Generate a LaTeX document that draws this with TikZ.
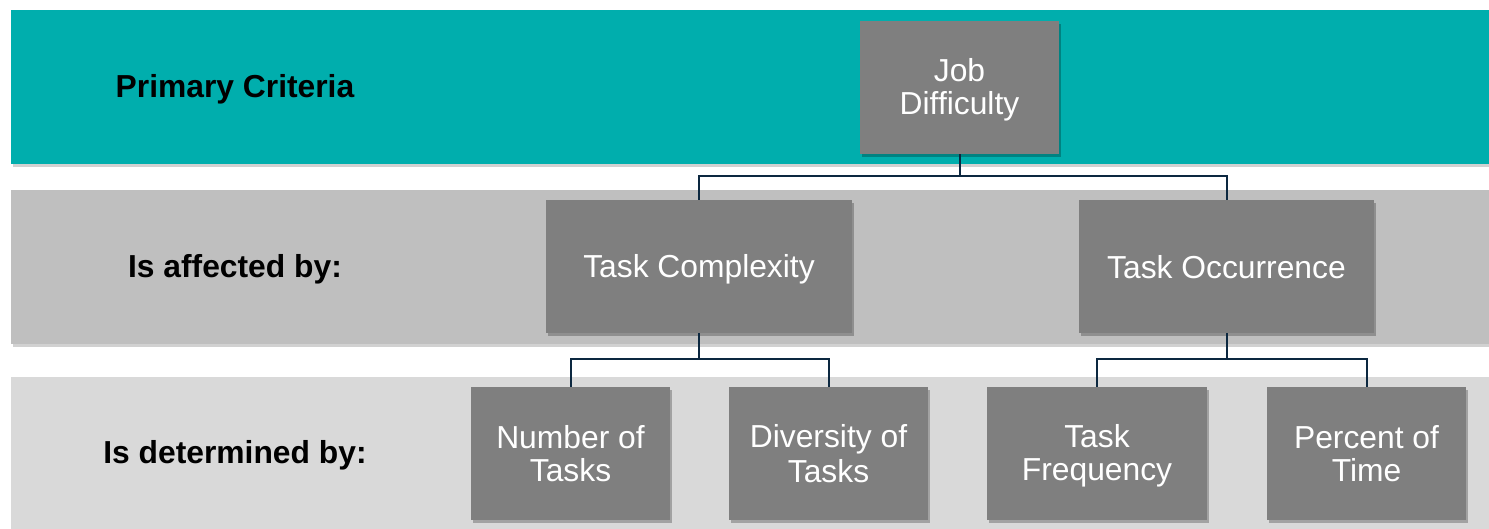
\documentclass[tikz,border=0pt]{standalone}
\usepackage{fontspec}
\setmainfont{Liberation Sans}
\usetikzlibrary{shadows}
\definecolor{teal1}{HTML}{00AEAD}
\definecolor{band2}{HTML}{BFBFBF}
\definecolor{band3}{HTML}{D9D9D9}
\definecolor{boxg}{HTML}{7F7F7F}
\definecolor{navy}{HTML}{0C2840}
\newcommand\bstrut{\rule[-5pt]{0pt}{33pt}}
\tikzset{
  bandrect/.style={draw=none, drop shadow={shadow xshift=1.5pt, shadow yshift=-3pt, opacity=0.18, fill=black}},
  gbox/.style={fill=boxg, draw=none, text=white, align=center, inner sep=0pt,
    minimum height=133pt, font=\fontsize{31.8}{33}\selectfont,
    drop shadow={shadow xshift=2pt, shadow yshift=-2.5pt, opacity=0.25, fill=black}},
  rowlabel/.style={font=\bfseries\fontsize{31.8}{33}\selectfont, text=black, inner sep=0pt},
  conn/.style={draw=navy, line width=2pt}
}
\begin{document}
\begin{tikzpicture}[x=1pt,y=-1pt]
\useasboundingbox (0,0) rectangle (1489,528);
% bands
\fill[teal1, bandrect] (11,10) rectangle (1495,164);
\fill[band2, bandrect] (11,190) rectangle (1495,344);
\fill[band3] (11,377) rectangle (1495,535);
% row labels
\node[rowlabel] (l1) at (235,87) {\bstrut Primary Criteria};
\node[rowlabel] (l2) at (235,267) {\bstrut Is affected by:};
\node[rowlabel] (l3) at (235,453) {\bstrut Is determined by:};
% boxes
\node[gbox, minimum width=199pt] (jd) at (959.5,87.5) {\bstrut Job\\\bstrut Difficulty};
\node[gbox, minimum width=306pt] (tc) at (699,266.5) {\bstrut Task Complexity};
\node[gbox, minimum width=295pt] (to) at (1226.5,266.5) {\bstrut Task Occurrence};
\node[gbox, minimum width=199pt] (nt) at (570.5,453.5) {\bstrut Number of\\\bstrut Tasks};
\node[gbox, minimum width=199pt] (dt) at (828.5,453.5) {\bstrut Diversity of\\\bstrut Tasks};
\node[gbox, minimum width=220pt] (tf) at (1097,453.5) {\bstrut Task\\\bstrut Frequency};
\node[gbox, minimum width=199pt] (pt) at (1366.5,453.5) {\bstrut Percent of\\\bstrut Time};
% connectors
\draw[conn] (jd.south) -- ++(0,22) -| (tc.north);
\draw[conn] (jd.south) ++(0,22) -| (to.north);
\draw[conn] (tc.south) -- ++(0,26) -| (nt.north);
\draw[conn] (tc.south) ++(0,26) -| (dt.north);
\draw[conn] (to.south) -- ++(0,26) -| (tf.north);
\draw[conn] (to.south) ++(0,26) -| (pt.north);
\end{tikzpicture}
\end{document}
